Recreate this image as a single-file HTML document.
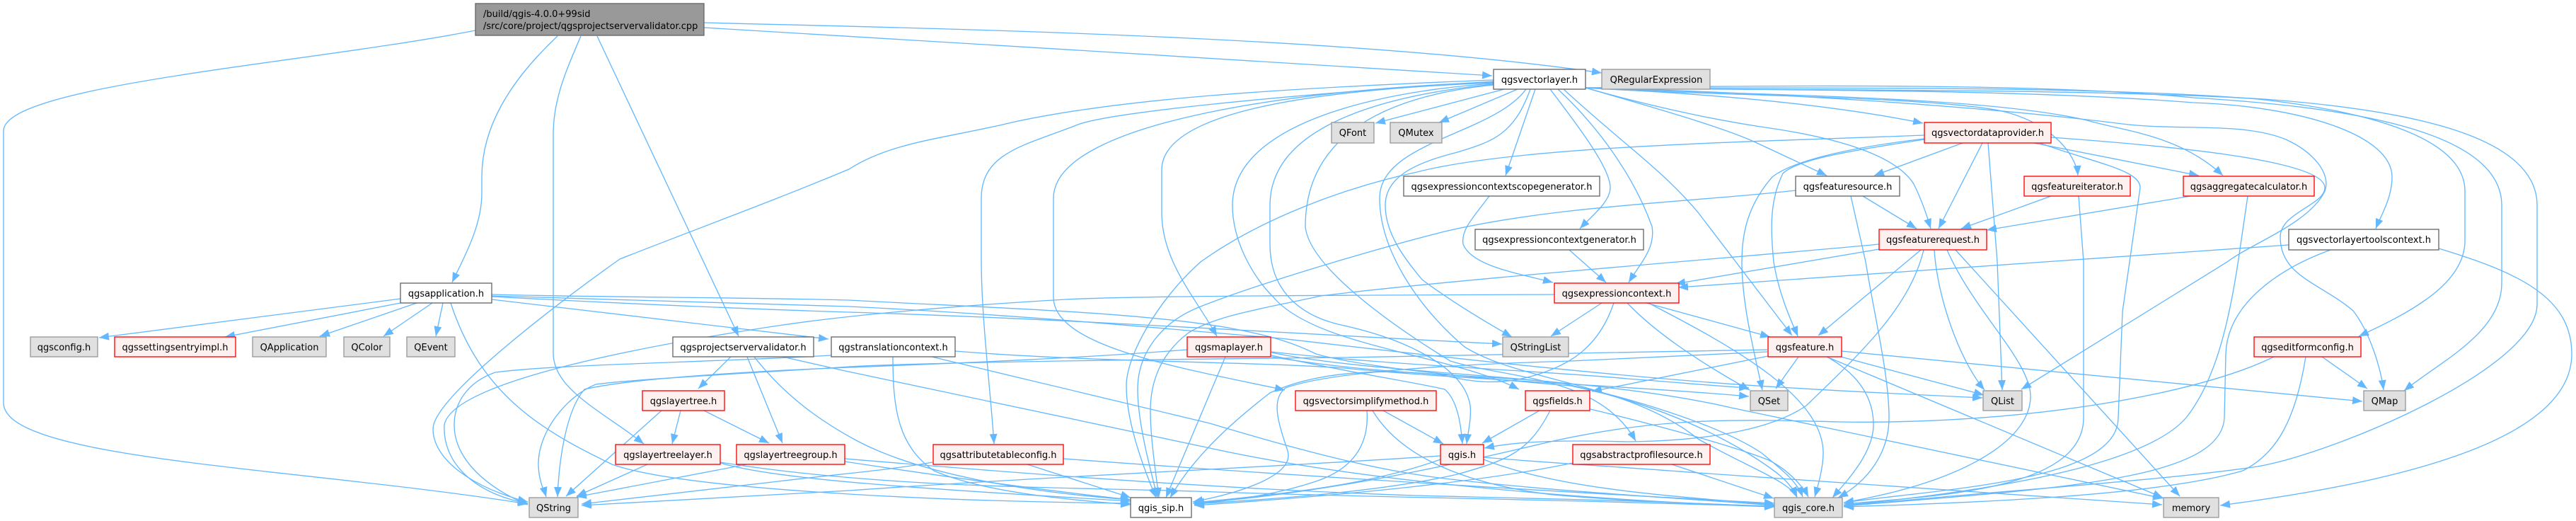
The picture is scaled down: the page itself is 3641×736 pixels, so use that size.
<!DOCTYPE html>
<html><head><meta charset="utf-8"><style>
html,body{margin:0;padding:0;background:#fff}
svg{display:block}
path.e{fill:none;stroke:#63b8ff;stroke-width:1.33;marker-end:url(#a)}
text{font-family:"DejaVu Sans","Liberation Sans",sans-serif;font-size:13px;fill:#000;text-anchor:middle}
rect{stroke-width:1.33}
.g{fill:#e0e0e0;stroke:#999}
.w{fill:#fff;stroke:#666}
.r{fill:#fff0f0;stroke:#f00}
</style></head><body>
<svg xmlns="http://www.w3.org/2000/svg" width="3641" height="736" viewBox="0 0 3641 736">
<defs><marker id="a" markerUnits="userSpaceOnUse" markerWidth="15" markerHeight="11" refX="14" refY="5.5" orient="auto"><path d="M0,0L14,5.5L0,11z" fill="#63b8ff"/></marker></defs>
<rect width="3641" height="736" fill="#fff"/>
<g>
<path class="e" d="M672,43C430,90 5,120 5,185L5,569C5,650 420,660 746,712"/>
<path class="e" d="M788,51C720,115 681,180 681,250L681,273C681,320 655,365 639,399"/>
<path class="e" d="M821,51C800,100 782,140 782,190L782,499C782,550 850,580 910,627"/>
<path class="e" d="M844,51L1044,475"/>
<path class="e" d="M995,32C1300,40 1900,50 2264,103"/>
<path class="e" d="M995,39C1300,60 1800,85 2109,107"/>
<path class="e" d="M2111,113C1800,125 1580,140 1430,173C1340,195 1260,200 1200,239C1090,285 980,325 876,366C800,420 612,560 612,606C612,650 670,690 746,709"/>
<path class="e" d="M2111,115C1800,135 1560,160 1521,177C1450,205 1387,215 1387,280L1387,366C1387,450 1400,550 1405,627"/>
<path class="e" d="M2111,116C1850,125 1489,170 1489,280L1489,420C1489,490 1670,520 1816,551"/>
<path class="e" d="M2111,117C1900,125 1642,150 1642,240L1642,300C1642,370 1690,420 1720,475"/>
<path class="e" d="M2111,118C1930,130 1742,180 1742,290C1742,340 1770,390 1800,420C1860,490 2050,500 2147,550"/>
<path class="e" d="M2111,119C1950,135 1795,180 1795,290L1795,345C1795,420 1850,450 1900,460C1990,480 2070,520 2078,573C2080,590 2075,610 2073,627"/>
<path class="e" d="M2111,120C1960,135 1845,190 1845,320C1850,375 1960,455 2050,510C2130,535 2260,530 2312,623"/>
<path class="e" d="M2157,126C2110,190 1950,200 1950,280C1950,350 2000,430 2070,490C2150,540 2300,540 2400,620C2470,660 2530,680 2540,703"/>
<path class="e" d="M2163,126C2140,190 2110,200 2060,215C2000,230 1958,250 1958,290C1958,330 1985,365 2010,395C2050,425 2100,455 2137,476"/>
<path class="e" d="M2126,126L1944,174"/>
<path class="e" d="M2145,126L2034,173"/>
<path class="e" d="M2170,126L2128,248"/>
<path class="e" d="M2191,126C2240,190 2276,240 2276,265C2276,285 2250,305 2233,323"/>
<path class="e" d="M2202,126C2260,180 2310,250 2335,320C2340,350 2320,370 2302,399"/>
<path class="e" d="M2210,126C2290,200 2350,240 2400,300L2533,474"/>
<path class="e" d="M2241,124C2350,130 2550,140 2718,174"/>
<path class="e" d="M2241,124C2330,150 2430,178 2479,200L2582,248"/>
<path class="e" d="M2241,124C2350,155 2440,172 2495,180C2600,195 2680,220 2705,260C2720,290 2728,320 2729,323"/>
<path class="e" d="M2241,124C2400,135 2700,135 2820,155C2900,170 2935,220 2937,248"/>
<path class="e" d="M2241,124C2480,135 2800,135 2950,170C3000,185 3080,190 3142,248"/>
<path class="e" d="M2241,124C2500,130 2800,150 3000,175C3080,185 3170,172 3231,197C3270,215 3295,245 3286,270C3265,315 3180,345 3148,370L2857,550"/>
<path class="e" d="M2241,124C2500,128 2850,125 3100,145C3250,150 3381,190 3381,250C3381,280 3365,305 3358,323"/>
<path class="e" d="M2241,124C2500,125 2950,120 3191,140C3330,155 3484,190 3484,270L3484,340C3484,400 3410,440 3334,475"/>
<path class="e" d="M2241,124C2550,120 2900,118 3100,138C3300,150 3536,180 3536,290L3536,400C3536,470 3450,510 3398,552"/>
<path class="e" d="M2241,124C2550,128 2950,125 3200,140C3400,155 3586,190 3586,290L3586,430C3586,520 3300,640 3191,659C3050,680 2800,695 2606,715"/>
<path class="e" d="M2774,202L2649,248"/>
<path class="e" d="M2802,202L2740,323"/>
<path class="e" d="M2810,202L2823,370L2830,551"/>
<path class="e" d="M2875,202L3108,248"/>
<path class="e" d="M2883,202C2960,230 3025,240 3025,265L3000,440L2994,590C2994,680 2750,690 2606,710"/>
<path class="e" d="M2899,194C3050,205 3286,225 3286,265C3286,290 3223,300 3223,335C3223,390 3280,400 3326,439C3350,470 3365,520 3369,551"/>
<path class="e" d="M2720,191C2500,200 2150,205 2003,243C1900,265 1780,310 1697,370C1640,420 1592,500 1592,545C1592,600 1620,670 1634,703"/>
<path class="e" d="M2720,196C2600,210 2530,230 2505,250C2470,290 2462,330 2462,370C2462,430 2480,500 2491,551"/>
<path class="e" d="M2720,197C2620,212 2540,225 2520,245C2500,285 2503,330 2507,370C2515,420 2535,460 2541,475"/>
<path class="e" d="M2633,277L2709,323"/>
<path class="e" d="M2616,277L2637,370C2650,450 2670,530 2670,590C2670,640 2640,680 2598,703"/>
<path class="e" d="M2538,269C2400,285 2200,290 2042,327C1950,350 1780,400 1697,433C1640,455 1608,500 1608,550C1608,600 1628,670 1636,703"/>
<path class="e" d="M2715,353L2570,474"/>
<path class="e" d="M2656,345C2500,360 2050,395 1867,418C1790,435 1720,445 1680,470C1640,500 1626,540 1626,580C1626,620 1634,670 1638,703"/>
<path class="e" d="M2656,352L2368,401"/>
<path class="e" d="M2719,353C2700,430 2640,490 2553,573C2500,610 2400,623 2300,624C2220,622 2150,622 2098,633"/>
<path class="e" d="M2734,353C2738,420 2770,510 2805,551"/>
<path class="e" d="M2752,353C2790,440 2870,510 2870,560C2870,620 2780,680 2606,710"/>
<path class="e" d="M2764,353L3081,701"/>
<path class="e" d="M2899,277L2772,323"/>
<path class="e" d="M2938,277L2945,370L2945,590C2945,690 2750,700 2606,712"/>
<path class="e" d="M3096,277L2808,325"/>
<path class="e" d="M3177,277L3164,366C3150,460 3130,540 3090,590C3030,660 2800,695 2606,714"/>
<path class="e" d="M3235,346L2372,406"/>
<path class="e" d="M3294,353C3220,380 3148,430 3146,500L3144,590C3140,680 2900,690 2606,715"/>
<path class="e" d="M3447,351C3560,385 3635,420 3635,500C3635,620 3400,680 3138,714"/>
<path class="e" d="M2264,428L2192,475"/>
<path class="e" d="M2197,416C1900,417 1600,418 1506,423C1350,432 1200,445 1100,460C900,490 640,540 628,600C625,660 680,700 746,711"/>
<path class="e" d="M2281,428C2260,490 2220,515 2170,530C2120,545 2080,540 2040,530C1950,520 1860,525 1795,555C1750,590 1690,640 1654,703"/>
<path class="e" d="M2327,428L2502,476"/>
<path class="e" d="M2300,428C2340,470 2400,510 2473,551"/>
<path class="e" d="M2330,428C2450,490 2577,560 2577,640C2577,660 2570,685 2565,702"/>
<path class="e" d="M1797,498C1950,530 2250,530 2447,576L3057,704"/>
<path class="e" d="M2542,504L2510,549"/>
<path class="e" d="M2602,504L2804,558"/>
<path class="e" d="M2603,496L3339,567"/>
<path class="e" d="M2582,504L3057,703"/>
<path class="e" d="M2582,504C2630,530 2648,565 2648,600C2648,640 2610,680 2590,703"/>
<path class="e" d="M2499,503L2250,553"/>
<path class="e" d="M2498,494L1900,505C1600,508 1300,512 1200,518C1100,525 900,535 842,543C800,560 761,610 761,655C761,680 770,695 772,702"/>
<path class="e" d="M2498,497L2220,510C2050,515 1880,525 1817,548C1795,565 1808,600 1820,637C1830,670 1760,695 1686,709"/>
<path class="e" d="M3282,504L3346,549"/>
<path class="e" d="M3259,504C3245,590 3220,640 3170,665C3050,700 2800,710 2606,716"/>
<path class="e" d="M3214,504C3100,560 2850,600 2600,596C2450,592 2350,590 2200,622C2100,645 1900,695 1686,711"/>
<path class="e" d="M2176,580L2095,626"/>
<path class="e" d="M2191,580C2160,640 2130,650 2060,670C1950,695 1800,705 1688,712"/>
<path class="e" d="M2248,578C2340,600 2450,630 2500,650C2530,665 2550,690 2556,702"/>
<path class="e" d="M1955,580L2040,627"/>
<path class="e" d="M1932,580C1935,620 1920,660 1860,680C1800,700 1750,705 1688,713"/>
<path class="e" d="M1940,580C1970,630 2040,680 2195,699C2300,708 2400,712 2508,715"/>
<path class="e" d="M2036,644C1800,660 1500,672 1200,693L822,714"/>
<path class="e" d="M2036,649C1950,680 1850,695 1688,710"/>
<path class="e" d="M2097,649C2200,690 2350,700 2508,713"/>
<path class="e" d="M2097,646C2200,655 2300,660 2400,668L3056,713"/>
<path class="e" d="M1452,656L1598,703"/>
<path class="e" d="M1318,653C1250,665 1200,668 1100,680L822,712"/>
<path class="e" d="M1503,648C1800,670 2200,695 2508,711"/>
<path class="e" d="M2223,654C2100,680 1900,700 1688,714"/>
<path class="e" d="M2363,656L2507,704"/>
<path class="e" d="M1678,494C1500,508 1300,515 1200,519C1050,525 890,535 826,550C800,580 790,650 788,702"/>
<path class="e" d="M1732,504L1648,703"/>
<path class="e" d="M1797,502C1900,525 2000,540 2042,550C2060,565 2065,600 2067,627"/>
<path class="e" d="M1797,497C1950,515 2200,525 2300,535C2370,540 2420,545 2472,548"/>
<path class="e" d="M1797,504C1950,530 2100,530 2200,540C2300,560 2430,600 2490,640C2520,665 2540,680 2548,702"/>
<path class="e" d="M566,422L140,477"/>
<path class="e" d="M566,428L318,476"/>
<path class="e" d="M589,428L452,475"/>
<path class="e" d="M611,428L542,475"/>
<path class="e" d="M626,428L616,475"/>
<path class="e" d="M637,428C680,560 770,610 865,656C960,690 1300,708 1598,711"/>
<path class="e" d="M695,423L1171,479"/>
<path class="e" d="M695,419C900,430 1100,438 1200,441C1500,450 1800,470 2123,486"/>
<path class="e" d="M695,416C850,420 1050,420 1200,424C1400,435 1600,440 1736,463C1800,475 1830,485 1860,500C1930,520 2100,535 2220,545C2340,570 2420,610 2470,640C2510,665 2530,680 2540,702"/>
<path class="e" d="M695,418C900,425 1100,430 1200,433C1450,445 1650,465 1810,478C2000,500 2300,535 2533,548C2650,555 2720,558 2802,562"/>
<path class="e" d="M1350,496C1550,512 1750,510 1900,520C2050,535 2300,545 2472,560"/>
<path class="e" d="M1175,502C1000,512 780,515 700,526C660,540 642,570 642,600C642,650 690,690 746,713"/>
<path class="e" d="M1262,504C1262,580 1270,630 1320,665C1390,695 1500,705 1598,713"/>
<path class="e" d="M1317,504L1710,598C1850,640 1950,665 2042,676C2200,695 2400,705 2508,714"/>
<path class="e" d="M1033,504L987,549"/>
<path class="e" d="M1056,504L1106,626"/>
<path class="e" d="M1066,504C1110,560 1160,595 1210,622C1300,670 1450,695 1598,706"/>
<path class="e" d="M1106,504L1190,523L1710,633C1900,675 2200,705 2508,716"/>
<path class="e" d="M935,580L800,701"/>
<path class="e" d="M962,580L950,627"/>
<path class="e" d="M995,580L1087,626"/>
<path class="e" d="M915,656L815,701"/>
<path class="e" d="M1018,654C1100,678 1300,690 1598,708"/>
<path class="e" d="M1018,653C1250,690 1500,688 1690,694C1900,702 2200,705 2508,716"/>
<path class="e" d="M1056,656L815,702"/>
<path class="e" d="M1194,652C1300,668 1450,690 1598,706"/>
<path class="e" d="M1194,648C1400,665 1700,690 2000,700C2200,705 2350,708 2508,716"/>
<path class="e" d="M2105,277C2080,310 2065,325 2068,345C2080,375 2140,385 2195,399"/>
<path class="e" d="M2218,353L2270,399"/>
</g>
<g>
<rect x="672" y="5" width="323" height="45" fill="#999" stroke="#666"/>
<text x="683" y="24" style="text-anchor:start">/build/qgis-4.0.0+99sid</text>
<text x="683" y="41" style="text-anchor:start">/src/core/project/qgsprojectservervalidator.cpp</text>
<rect class="w" x="2111" y="98" width="130" height="28"/><text x="2176" y="117">qgsvectorlayer.h</text>
<rect class="g" x="2264" y="98" width="153" height="28"/><text x="2341" y="117">QRegularExpression</text>
<rect class="w" x="566" y="400" width="129" height="28"/><text x="630.5" y="419">qgsapplication.h</text>
<rect class="g" x="43" y="476" width="95" height="28"/><text x="90.5" y="495">qgsconfig.h</text>
<rect class="r" x="162" y="476" width="171" height="28"/><text x="247.5" y="495">qgssettingsentryimpl.h</text>
<rect class="g" x="357" y="476" width="104" height="28"/><text x="409" y="495">QApplication</text>
<rect class="g" x="486" y="476" width="65" height="28"/><text x="518.5" y="495">QColor</text>
<rect class="g" x="575" y="476" width="68" height="28"/><text x="609" y="495">QEvent</text>
<rect class="w" x="951" y="476" width="199" height="28"/><text x="1050.5" y="495">qgsprojectservervalidator.h</text>
<rect class="w" x="1175" y="476" width="175" height="28"/><text x="1262.5" y="495">qgstranslationcontext.h</text>
<rect class="r" x="908" y="552" width="116" height="28"/><text x="966" y="571">qgslayertree.h</text>
<rect class="r" x="870" y="628" width="148" height="28"/><text x="944" y="647">qgslayertreelayer.h</text>
<rect class="r" x="1041" y="628" width="153" height="28"/><text x="1117.5" y="647">qgslayertreegroup.h</text>
<rect class="g" x="748" y="703" width="69" height="28"/><text x="782.5" y="722">QString</text>
<rect class="g" x="1882" y="173" width="60" height="29"/><text x="1912" y="192">QFont</text>
<rect class="g" x="1965" y="173" width="73" height="29"/><text x="2001.5" y="192">QMutex</text>
<rect class="w" x="1984" y="249" width="277" height="28"/><text x="2122.5" y="268">qgsexpressioncontextscopegenerator.h</text>
<rect class="w" x="2085" y="324" width="238" height="29"/><text x="2204" y="343">qgsexpressioncontextgenerator.h</text>
<rect class="r" x="2197" y="400" width="176" height="28"/><text x="2285" y="419">qgsexpressioncontext.h</text>
<rect class="r" x="1678" y="476" width="118" height="28"/><text x="1737" y="495">qgsmaplayer.h</text>
<rect class="g" x="2124" y="476" width="93" height="28"/><text x="2170.5" y="495">QStringList</text>
<rect class="r" x="1831" y="552" width="199" height="28"/><text x="1930.5" y="571">qgsvectorsimplifymethod.h</text>
<rect class="r" x="2156" y="552" width="91" height="28"/><text x="2201.5" y="571">qgsfields.h</text>
<rect class="r" x="1319" y="628" width="184" height="28"/><text x="1411" y="647">qgsattributetableconfig.h</text>
<rect class="r" x="2036" y="628" width="61" height="28"/><text x="2066.5" y="647">qgis.h</text>
<rect class="r" x="2223" y="628" width="194" height="28"/><text x="2320" y="647">qgsabstractprofilesource.h</text>
<rect class="w" x="1598" y="703" width="86" height="28"/><text x="1641" y="722">qgis_sip.h</text>
<rect class="r" x="2720" y="173" width="179" height="29"/><text x="2809.5" y="192">qgsvectordataprovider.h</text>
<rect class="w" x="2538" y="249" width="147" height="28"/><text x="2611.5" y="268">qgsfeaturesource.h</text>
<rect class="r" x="2861" y="249" width="150" height="28"/><text x="2936" y="268">qgsfeatureiterator.h</text>
<rect class="r" x="3086" y="249" width="185" height="28"/><text x="3178.5" y="268">qgsaggregatecalculator.h</text>
<rect class="r" x="2656" y="324" width="152" height="29"/><text x="2732" y="343">qgsfeaturerequest.h</text>
<rect class="w" x="3235" y="324" width="212" height="29"/><text x="3341" y="343">qgsvectorlayertoolscontext.h</text>
<rect class="r" x="2499" y="476" width="104" height="28"/><text x="2551" y="495">qgsfeature.h</text>
<rect class="r" x="3186" y="476" width="151" height="28"/><text x="3261.5" y="495">qgseditformconfig.h</text>
<rect class="g" x="2474" y="552" width="53" height="28"/><text x="2500.5" y="571">QSet</text>
<rect class="g" x="2803" y="552" width="55" height="28"/><text x="2830.5" y="571">QList</text>
<rect class="g" x="3341" y="552" width="59" height="28"/><text x="3370.5" y="571">QMap</text>
<rect class="g" x="2508" y="703" width="96" height="28"/><text x="2556" y="722">qgis_core.h</text>
<rect class="g" x="3058" y="703" width="78" height="28"/><text x="3097" y="722">memory</text>
</g>
</svg>
</body></html>
